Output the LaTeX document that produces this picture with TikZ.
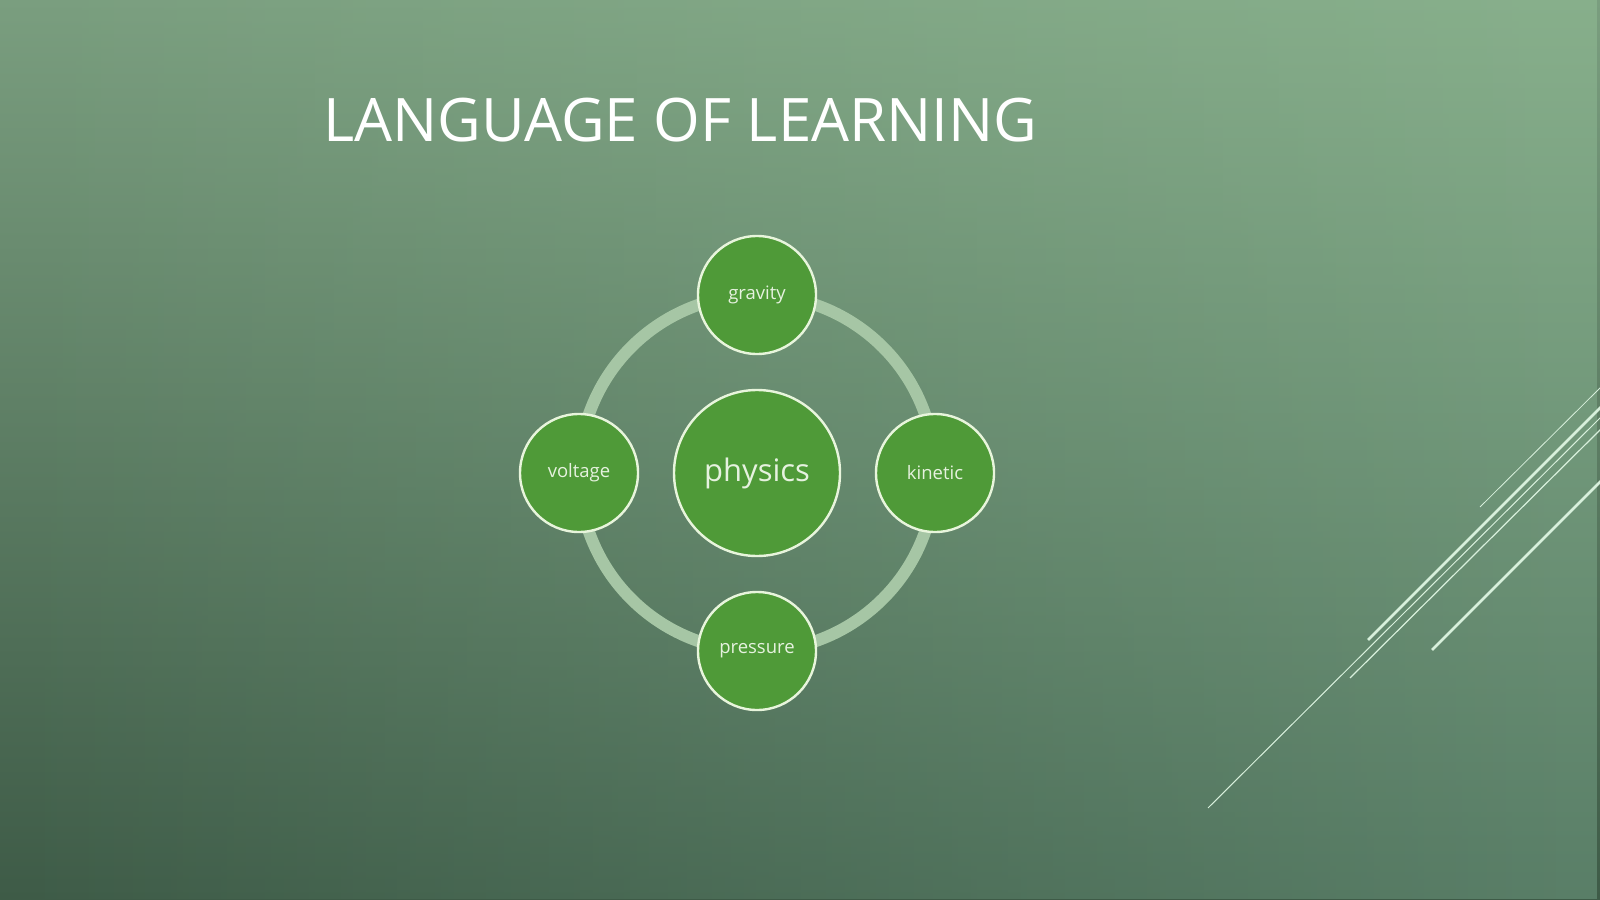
\documentclass[tikz,border=0pt]{standalone}
\usepackage{fontspec}
\setmainfont{Open Sans}
\usetikzlibrary{fadings}
\definecolor{bgTL}{HTML}{7A9E7F}
\definecolor{bgTR}{HTML}{88B08C}
\definecolor{bgBL}{HTML}{3E5B47}
\definecolor{bgBR}{HTML}{5A7F68}
\definecolor{ringc}{HTML}{A6C6A5}
\definecolor{nodefill}{HTML}{4F9A38}
\definecolor{nodeline}{HTML}{E8F5DC}
\definecolor{txt}{HTML}{E6F2DF}
\definecolor{deco}{HTML}{D8F0DC}
\tikzfading[name=fadeR, left color=transparent!100, right color=transparent!0]
\tikzset{
  sat/.style={circle, fill=nodefill, draw=nodeline, line width=2.4pt,
    minimum size=118pt, inner sep=0pt, text=txt, font=\fontsize{18.5}{20}\selectfont},
  hub/.style={circle, fill=nodefill, draw=nodeline, line width=2.4pt,
    minimum size=166pt, inner sep=0pt, text=txt, font=\fontsize{31}{34}\selectfont},
  ringstyle/.style={draw=ringc, line width=12pt},
  decothin/.style={draw=deco, line width=1pt},
  decothick/.style={draw=deco, line width=2.6pt}
}
\begin{document}
\begin{tikzpicture}[x=1pt,y=-1pt]
\useasboundingbox (0,0) rectangle (1600,899);
\begin{scope}
\clip (0,0) rectangle (1600,899);
% background
\shade[top color=bgTL, bottom color=bgBL] (0,0) rectangle (1600,899);
\shade[top color=bgTR, bottom color=bgBR, path fading=fadeR] (0,0) rectangle (1600,899);
% decorative lines
\draw[decothin, line width=0.8pt] (1480,507) -- (1602,386);
\draw[decothick] (1368,640) -- (1602,406);
\draw[decothin] (1208,808) -- (1602,416);
\draw[decothin, line width=1.2pt] (1350,678) -- (1602,428);
\draw[decothick] (1432,650) -- (1602,480);
\end{scope}
% title
\node[anchor=base west, inner sep=0pt, text=white, font=\fontsize{60}{68}\selectfont] (title) at (323,141) {LANGUAGE OF LEARNING};
% diagram
\coordinate (ctr) at (757,473);
\draw[ringstyle] (ctr) circle (178);
\node[hub] (physics) at (ctr) {physics};
\node[sat] (gravity) at (757,295) {\raisebox{-2pt}{gravity}};
\node[sat] (kinetic) at (935,473) {kinetic};
\node[sat] (pressure) at (757,651) {\raisebox{-2pt}{pressure}};
\node[sat] (voltage) at (579,473) {\raisebox{-1pt}{voltage}};
\end{tikzpicture}
\end{document}
